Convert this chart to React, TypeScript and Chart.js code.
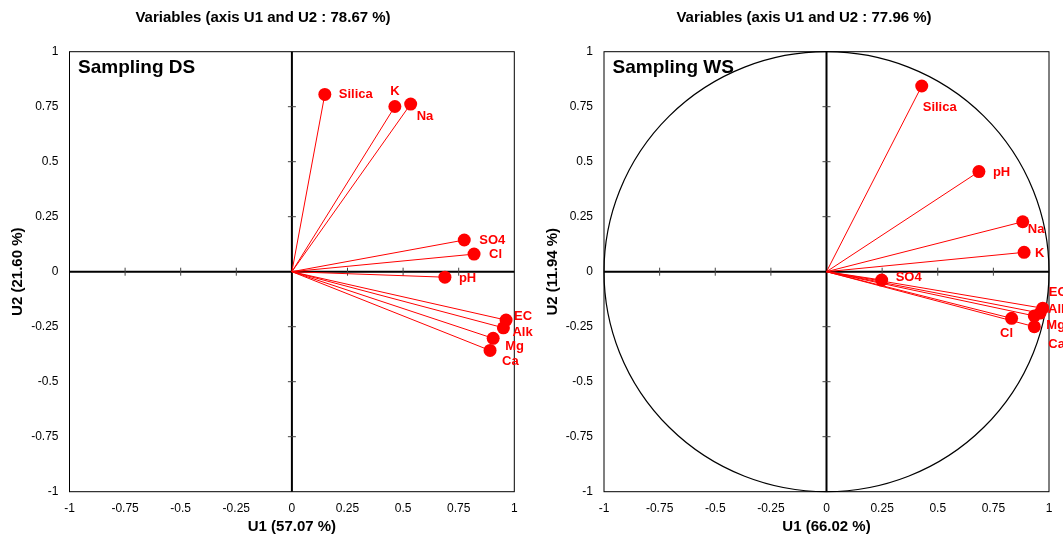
import React, { useEffect, useRef } from 'react';
import { Chart, registerables } from 'chart.js';

Chart.register(...registerables);

const FONT = '"Liberation Sans", Arial, Helvetica, sans-serif';

// ---- data: Sampling DS ----
const variablesDS = ['Silica', 'K', 'Na', 'SO4', 'Cl', 'pH', 'EC', 'Alk', 'Mg', 'Ca'];
const u1DS = [0.148, 0.463, 0.534, 0.775, 0.819, 0.688, 0.963, 0.951, 0.905, 0.891];
const u2DS = [0.806, 0.751, 0.762, 0.144, 0.080, -0.025, -0.220, -0.255, -0.303, -0.358];

// ---- data: Sampling WS ----
const variablesWS = ['Silica', 'pH', 'Na', 'K', 'SO4', 'Cl', 'EC', 'Alk', 'Mg', 'Ca'];
const u1WS = [0.428, 0.685, 0.882, 0.888, 0.248, 0.832, 0.972, 0.960, 0.934, 0.934];
const u2WS = [0.844, 0.455, 0.227, 0.088, -0.038, -0.212, -0.166, -0.188, -0.201, -0.250];

// ---- tick labels ----
const tickLabels = ['-1', '-0.75', '-0.5', '-0.25', '0', '0.25', '0.5', '0.75', '1'];
const tickValues = [-1, -0.75, -0.5, -0.25, 0, 0.25, 0.5, 0.75, 1];

// ---- label placement (layout only): [dx, dy, align] ----
const labelPosDS: [number, number, CanvasTextAlign][] = [
  [14, 0, 'left'], [0, -15, 'center'], [6, 12, 'left'], [15, 0, 'left'], [15, 0, 'left'],
  [14, 1, 'left'], [8, -4, 'left'], [9, 5, 'left'], [12, 8, 'left'], [12, 11, 'left'],
];
const labelPosWS: [number, number, CanvasTextAlign][] = [
  [1, 21, 'left'], [14, 1, 'left'], [5, 8, 'left'], [11, 1, 'left'], [14, -3, 'left'],
  [-5, 15, 'center'], [6, -16, 'left'], [8, -4, 'left'], [12, 9.5, 'left'], [14, 18, 'left'],
];

type Panel = {
  title: string;
  xTitle: string;
  yTitle: string;
  sampling: string;
  names: string[];
  u1: number[];
  u2: number[];
  labelPos: [number, number, CanvasTextAlign][];
  circle: boolean;
  width: number;
  left: number;
  padRight: number;
  yWidth: number;
  yTitlePad: number;
  titleCenter: number;
};

const panels: Panel[] = [
  {
    title: 'Variables (axis U1 and U2 : 78.67 %)',
    xTitle: 'U1 (57.07 %)',
    yTitle: 'U2 (21.60 %)',
    sampling: 'Sampling DS',
    names: variablesDS, u1: u1DS, u2: u2DS, labelPos: labelPosDS,
    circle: false, width: 540, left: 0, padRight: 25.7, yWidth: 69.5, yTitlePad: 9, titleCenter: 263,
  },
  {
    title: 'Variables (axis U1 and U2 : 77.96 %)',
    xTitle: 'U1 (66.02 %)',
    yTitle: 'U2 (11.94 %)',
    sampling: 'Sampling WS',
    names: variablesWS, u1: u1WS, u2: u2WS, labelPos: labelPosWS,
    circle: true, width: 523, left: 540, padRight: 14, yWidth: 64, yTitlePad: 4, titleCenter: 804,
  },
];

function makeConfig(p: Panel): any {
  const pts = p.u1.map((x, i) => ({ x, y: p.u2[i] }));
  const linePts: any[] = [];
  p.u1.forEach((x, i) => {
    linePts.push({ x: 0, y: 0 });
    linePts.push({ x, y: p.u2[i] });
    linePts.push({ x: 0, y: null });
  });

  const framePlugin = {
    id: 'frame',
    beforeDatasetsDraw(chart: any) {
      const { ctx, chartArea } = chart;
      const { left, right, top, bottom } = chartArea;
      const xs = chart.scales.x;
      const ys = chart.scales.y;
      const x0 = xs.getPixelForValue(0);
      const y0 = ys.getPixelForValue(0);
      ctx.save();
      ctx.strokeStyle = '#000';
      ctx.lineWidth = 1;
      ctx.strokeRect(left, top, right - left, bottom - top);
      if (p.circle) {
        ctx.beginPath();
        ctx.ellipse(x0, y0, xs.getPixelForValue(1) - x0, y0 - ys.getPixelForValue(1), 0, 0, Math.PI * 2);
        ctx.lineWidth = 1.2;
        ctx.stroke();
      }
      ctx.lineWidth = 2;
      ctx.beginPath();
      ctx.moveTo(left, y0);
      ctx.lineTo(right, y0);
      ctx.moveTo(x0, top);
      ctx.lineTo(x0, bottom);
      ctx.stroke();
      ctx.lineWidth = 1;
      ctx.strokeStyle = '#444';
      ctx.beginPath();
      tickValues.forEach((v) => {
        if (v === 0 || Math.abs(v) === 1) return;
        const px = xs.getPixelForValue(v);
        ctx.moveTo(px, y0 - 4);
        ctx.lineTo(px, y0 + 4);
        const py = ys.getPixelForValue(v);
        ctx.moveTo(x0 - 4, py);
        ctx.lineTo(x0 + 4, py);
      });
      ctx.stroke();
      ctx.fillStyle = '#000';
      ctx.font = `bold 19px ${FONT}`;
      ctx.textAlign = 'left';
      ctx.textBaseline = 'alphabetic';
      ctx.fillText(p.sampling, left + 8.5, top + 21);
      // main title
      ctx.font = `bold 15px ${FONT}`;
      ctx.textAlign = 'center';
      ctx.textBaseline = 'middle';
      ctx.fillText(p.title, p.titleCenter - p.left, 18);
      ctx.restore();
    },
  };

  const labelPlugin = {
    id: 'varLabels',
    afterDatasetsDraw(chart: any) {
      const { ctx } = chart;
      const meta = chart.getDatasetMeta(0);
      ctx.save();
      ctx.fillStyle = '#ff0000';
      ctx.font = `bold 13px ${FONT}`;
      ctx.textBaseline = 'middle';
      meta.data.forEach((el: any, i: number) => {
        const [dx, dy, align] = p.labelPos[i];
        ctx.textAlign = align;
        ctx.fillText(p.names[i], el.x + dx, el.y + dy);
      });
      ctx.restore();
    },
  };

  const tickFont = { family: FONT, size: 12 };
  const titleFont = { family: FONT, size: 15, weight: 'bold' };

  return {
    type: 'scatter',
    data: {
      datasets: [
        {
          data: pts,
          pointRadius: 6.5,
          pointHoverRadius: 6.5,
          backgroundColor: '#ff0000',
          borderColor: '#ff0000',
          borderWidth: 0,
        },
        {
          data: linePts,
          showLine: true,
          spanGaps: false,
          pointRadius: 0,
          pointHoverRadius: 0,
          borderColor: '#ff0000',
          borderWidth: 1,
          backgroundColor: '#ff0000',
        },
      ],
    },
    options: {
      animation: false,
      responsive: false,
      maintainAspectRatio: false,
      events: [],
      layout: { padding: { left: 0, right: p.padRight, top: 51.7, bottom: 0 } },
      plugins: {
        legend: { display: false },
        tooltip: { enabled: false },
        title: { display: false },
      },
      scales: {
        x: {
          type: 'linear',
          min: -1,
          max: 1,
          grid: { display: false, drawTicks: false },
          border: { display: false },
          ticks: {
            stepSize: 0.25,
            padding: 9.4,
            color: '#000',
            font: tickFont,
            maxRotation: 0,
            autoSkip: false,
            callback: (_v: any, i: number) => tickLabels[i],
          },
          title: {
            display: true,
            text: p.xTitle,
            color: '#000',
            font: titleFont,
            padding: { top: 0, bottom: 2.3 },
          },
          afterFit: (s: any) => { s.height = 46.3; s.paddingLeft = 0; s.paddingRight = 0; },
        },
        y: {
          type: 'linear',
          min: -1,
          max: 1,
          grid: { display: false, drawTicks: false },
          border: { display: false },
          ticks: {
            stepSize: 0.25,
            padding: 11,
            color: '#000',
            font: tickFont,
            autoSkip: false,
            callback: (_v: any, i: number) => tickLabels[i],
          },
          title: {
            display: true,
            text: p.yTitle,
            color: '#000',
            font: titleFont,
            padding: { top: p.yTitlePad, bottom: 0 },
          },
          afterFit: (s: any) => { s.width = p.yWidth; s.paddingTop = 0; s.paddingBottom = 0; },
        },
      },
    },
    plugins: [framePlugin, labelPlugin],
  };
}

function PanelChart({ panel }: { panel: Panel }) {
  const ref = useRef<HTMLCanvasElement | null>(null);
  useEffect(() => {
    if (!ref.current) return;
    const chart = new Chart(ref.current, makeConfig(panel));
    return () => chart.destroy();
  }, [panel]);
  return (
    <canvas
      ref={ref}
      width={panel.width}
      height={538}
      style={{ position: 'absolute', left: panel.left, top: 0, width: panel.width, height: 538 }}
    />
  );
}

export default function App() {
  return (
    <div style={{ position: 'absolute', left: 0, top: 0, width: 1063, height: 538, background: '#fff', overflow: 'hidden' }}>
      {panels.map((p) => (
        <PanelChart key={p.sampling} panel={p} />
      ))}
    </div>
  );
}
